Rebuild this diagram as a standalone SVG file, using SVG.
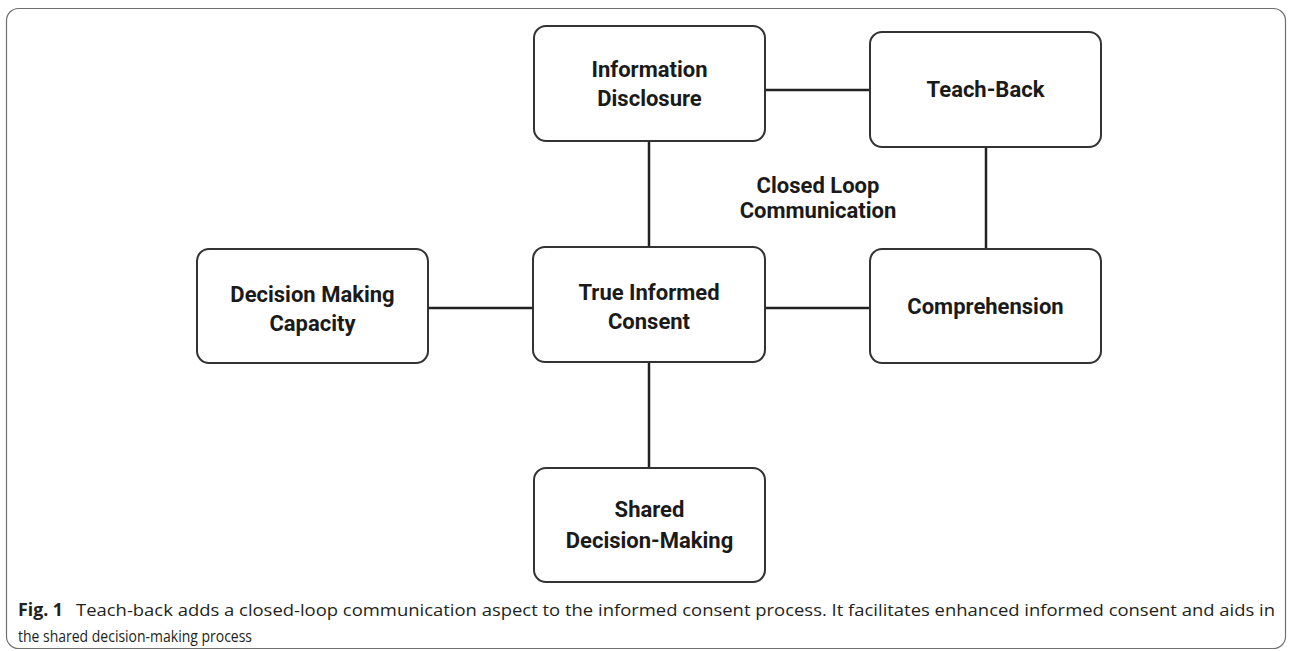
<svg xmlns="http://www.w3.org/2000/svg" width="1292" height="651" viewBox="0 0 1292 651">
  <style>
    .node rect { fill: #ffffff; stroke: #333333; stroke-width: 2; }
    .node text { font-family: Roboto, "Liberation Sans", sans-serif; font-weight: bold; font-size: 22px; fill: #1a1a1a; text-anchor: middle; }
    .conn line { stroke: #222222; stroke-width: 2.5; }
    .label { font-family: Roboto, "Liberation Sans", sans-serif; font-weight: bold; font-size: 22px; fill: #1a1a1a; text-anchor: middle; }
    .caption { font-family: "Open Sans", "Noto Sans", sans-serif; font-size: 17px; fill: #231f20; }
  </style>
  <rect x="0" y="0" width="1292" height="651" fill="#ffffff"/>
  <rect id="frame" x="6.5" y="8.5" width="1279" height="640" rx="12" fill="none" stroke="#707070" stroke-width="1.2"/>

  <g id="connectors" class="conn">
    <line x1="766" y1="90" x2="869" y2="90"/>
    <line x1="649" y1="141" x2="649" y2="247"/>
    <line x1="986" y1="147" x2="986" y2="249"/>
    <line x1="429" y1="308" x2="532" y2="308"/>
    <line x1="766" y1="308" x2="869" y2="308"/>
    <line x1="649" y1="363" x2="649" y2="467"/>
  </g>

  <g id="information-disclosure" class="node">
    <rect x="534" y="26" width="231" height="115" rx="12"/>
    <text x="649.5" y="77">Information</text>
    <text x="649.5" y="106">Disclosure</text>
  </g>
  <g id="teach-back" class="node">
    <rect x="870" y="32" width="231" height="115" rx="12"/>
    <text x="985.5" y="97">Teach-Back</text>
  </g>
  <g id="decision-making-capacity" class="node">
    <rect x="197" y="249" width="231" height="114" rx="12"/>
    <text x="312.5" y="302">Decision Making</text>
    <text x="312.5" y="331">Capacity</text>
  </g>
  <g id="true-informed-consent" class="node">
    <rect x="533" y="247" width="232" height="115" rx="12"/>
    <text x="649" y="300">True Informed</text>
    <text x="649" y="329">Consent</text>
  </g>
  <g id="comprehension" class="node">
    <rect x="870" y="249" width="231" height="114" rx="12"/>
    <text x="985.5" y="314">Comprehension</text>
  </g>
  <g id="shared-decision-making" class="node">
    <rect x="534" y="468" width="231" height="114" rx="12"/>
    <text x="649.5" y="517">Shared</text>
    <text x="649.5" y="548">Decision-Making</text>
  </g>

  <g id="closed-loop-label">
    <text class="label" x="818" y="193">Closed Loop</text>
    <text class="label" x="818" y="218">Communication</text>
  </g>

  <g id="caption">
    <text class="caption" x="18" y="616" font-weight="bold" textLength="45" lengthAdjust="spacingAndGlyphs">Fig. 1</text>
    <text class="caption" x="76" y="616" textLength="1199" lengthAdjust="spacingAndGlyphs">Teach-back adds a closed-loop communication aspect to the informed consent process. It facilitates enhanced informed consent and aids in</text>
    <text class="caption" x="18" y="642" textLength="234" lengthAdjust="spacingAndGlyphs">the shared decision-making process</text>
  </g>
</svg>
